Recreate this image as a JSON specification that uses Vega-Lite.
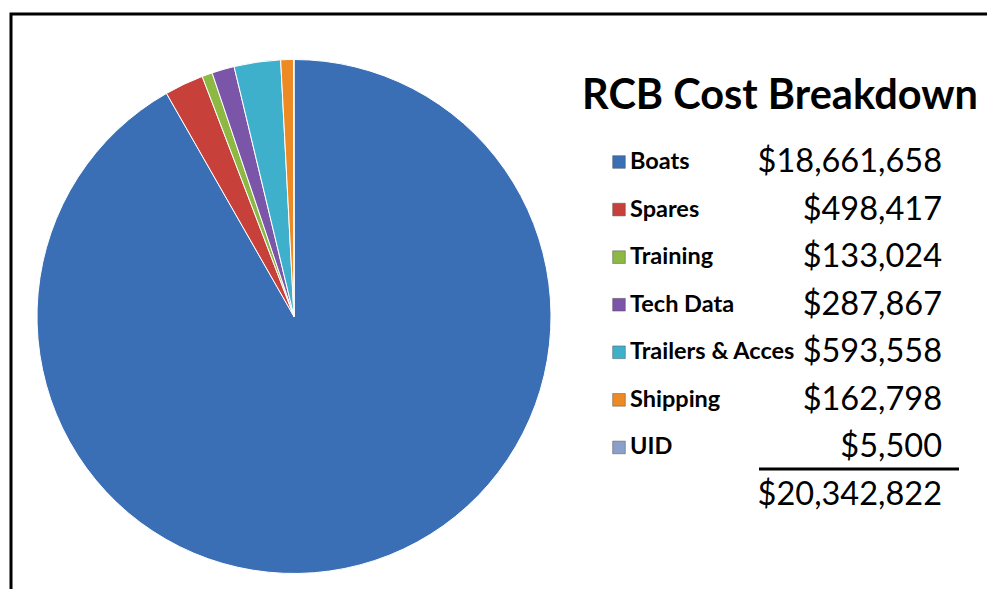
{
  "$schema": "https://vega.github.io/schema/vega-lite/v6.json",
  "padding": {"left": 9, "top": 12, "right": 0, "bottom": 0},
  "background": "white",
  "spacing": 0,
  "bounds": "flush",
  "config": {"font": "Lato", "view": {"stroke": null}},
  "datasets": {
    "costs": [
      {"category": "Boats", "cost": 18661658, "rank": 1},
      {"category": "Spares", "cost": 498417, "rank": 2},
      {"category": "Training", "cost": 133024, "rank": 3},
      {"category": "Tech Data", "cost": 287867, "rank": 4},
      {"category": "Trailers & Acces", "cost": 593558, "rank": 5},
      {"category": "Shipping", "cost": 162798, "rank": 6},
      {"category": "UID", "cost": 5500, "rank": 7}
    ]
  },
  "hconcat": [
    {
      "width": 566,
      "height": 577,
      "view": {"stroke": "black", "strokeWidth": 3, "strokeDash": [566, 1143, 577]},
      "data": {"name": "costs"},
      "mark": {"type": "arc", "outerRadius": 257, "yOffset": 14, "stroke": "white", "strokeWidth": 1},
      "encoding": {
        "theta": {"field": "cost", "type": "quantitative", "stack": true},
        "order": {"field": "rank", "type": "quantitative"},
        "color": {
          "field": "category",
          "type": "nominal",
          "scale": {
            "domain": ["Boats", "Spares", "Training", "Tech Data", "Trailers & Acces", "Shipping", "UID"],
            "range": ["#3a6fb6", "#c8403a", "#8db844", "#7a55a8", "#3fb0cc", "#ee8a24", "#8aa0c8"]
          },
          "legend": null
        }
      }
    },
    {
      "width": 412,
      "height": 577,
      "view": {"stroke": "black", "strokeWidth": 3, "strokeDash": [412, 3000]},
      "data": {"name": "costs"},
      "layer": [
        {
          "mark": {"type": "square", "x": 42, "size": 160, "opacity": 1, "stroke": "#555", "strokeWidth": 0.5},
          "encoding": {
            "y": {
              "field": "category",
              "type": "nominal",
              "scale": {
                "type": "point",
                "padding": 0,
                "domain": ["Boats", "Spares", "Training", "Tech Data", "Trailers & Acces", "Shipping", "UID", "Total"],
                "range": [148, 481]
              },
              "axis": null
            },
            "color": {"field": "category", "type": "nominal", "legend": null}
          }
        },
        {
          "mark": {"type": "text", "x": 53, "align": "left", "baseline": "middle", "fontSize": 23.5, "fontWeight": "bold", "color": "black"},
          "encoding": {
            "y": {"field": "category", "type": "nominal", "axis": null},
            "text": {"field": "category"}
          }
        },
        {
          "mark": {"type": "text", "x": 365, "align": "right", "baseline": "middle", "fontSize": 32.5, "color": "black"},
          "encoding": {
            "y": {"field": "category", "type": "nominal", "axis": null},
            "text": {"field": "cost", "type": "quantitative", "format": "$,.0f"}
          }
        },
        {
          "transform": [{"aggregate": [{"op": "sum", "field": "cost", "as": "total"}]}],
          "mark": {"type": "text", "x": 365, "align": "right", "baseline": "middle", "fontSize": 32.5, "color": "black"},
          "encoding": {
            "y": {"datum": "Total"},
            "text": {"field": "total", "type": "quantitative", "format": "$,.0f"}
          }
        },
        {
          "transform": [{"aggregate": [{"op": "sum", "field": "cost", "as": "total"}]}],
          "mark": {"type": "rule", "x": 182, "x2": 382, "yOffset": -26, "strokeWidth": 3, "color": "black"},
          "encoding": {"y": {"datum": "Total"}}
        },
        {
          "transform": [{"aggregate": [{"op": "sum", "field": "cost", "as": "total"}]}],
          "mark": {"type": "text", "x": 203, "y": 83, "align": "center", "baseline": "middle", "fontSize": 41.5, "fontWeight": "bold", "color": "black", "text": "RCB Cost Breakdown"},
          "encoding": {}
        }
      ]
    }
  ]
}
